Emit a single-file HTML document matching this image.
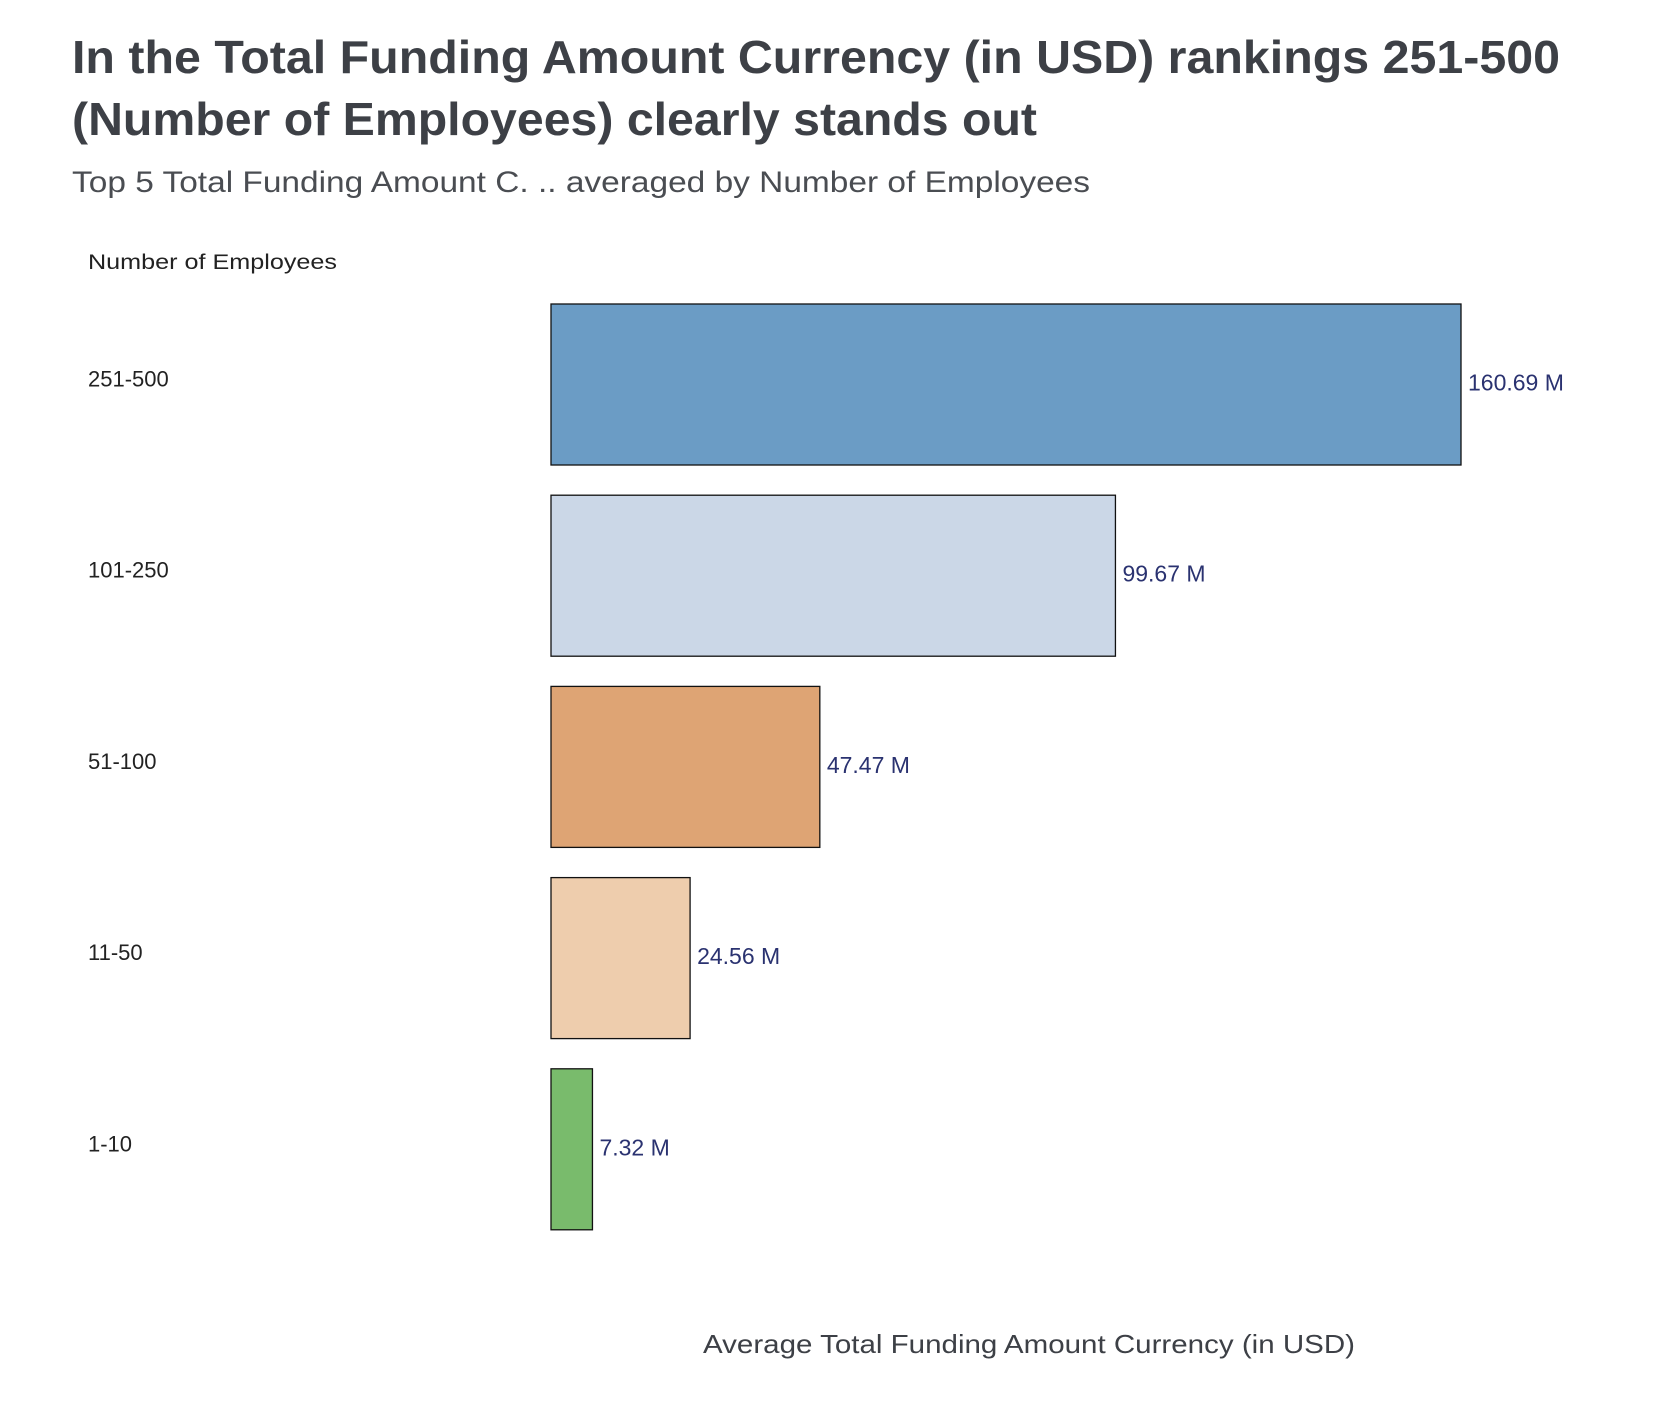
<!DOCTYPE html>
<html><head><meta charset="utf-8"><style>
html,body{margin:0;padding:0;background:#fff;}
svg{display:block;font-family:"Liberation Sans",sans-serif;}
</style></head><body>
<svg id="chart" width="1662" height="1414">
<text x="72" y="73" font-size="46" font-weight="bold" fill="#3d4046" textLength="1488" lengthAdjust="spacingAndGlyphs">In the Total Funding Amount Currency (in USD) rankings 251-500</text>
<text x="72" y="135" font-size="46" font-weight="bold" fill="#3d4046" textLength="965" lengthAdjust="spacingAndGlyphs">(Number of Employees) clearly stands out</text>
<text x="72" y="192" font-size="30" fill="#4a4d52" textLength="1018" lengthAdjust="spacingAndGlyphs">Top 5 Total Funding Amount C. .. averaged by Number of Employees</text>
<text x="88" y="269" font-size="21" fill="#222" textLength="249" lengthAdjust="spacingAndGlyphs">Number of Employees</text>
<text x="1029" y="1353" font-size="26" fill="#3d4046" text-anchor="middle" textLength="652" lengthAdjust="spacingAndGlyphs">Average Total Funding Amount Currency (in USD)</text>
<g id="bars"></g>
</svg>
<script>
const categories = ["251-500","101-250","51-100","11-50","1-10"];
const values = [160.69, 99.67, 47.47, 24.56, 7.32];
const valueLabels = ["160.69 M","99.67 M","47.47 M","24.56 M","7.32 M"];
const colors = ["#6b9cc5","#cbd7e7","#dea474","#eecdad","#79bb6c"];

const x0 = 551, xMax = 160.69, xW = 910;
function xs(v){ return x0 + v / xMax * xW; }
const yTop = 304, step = 191.2, barH = 161;
function ys(i){ return yTop + i * step; }

const g = document.getElementById('bars');
const NS = 'http://www.w3.org/2000/svg';
categories.forEach((c, i) => {
  const r = document.createElementNS(NS, 'rect');
  r.setAttribute('x', x0);
  r.setAttribute('y', ys(i));
  r.setAttribute('width', xs(values[i]) - x0);
  r.setAttribute('height', barH);
  r.setAttribute('fill', colors[i]);
  r.setAttribute('stroke', '#111');
  r.setAttribute('stroke-width', '1.3');
  
  
  g.appendChild(r);

  const t = document.createElementNS(NS, 'text');
  t.setAttribute('x', xs(values[i]) + 7);
  t.setAttribute('y', ys(i) + barH / 2 + 6);
  t.setAttribute('font-size', '23');
  t.setAttribute('fill', '#2a3270');
  t.textContent = valueLabels[i];
  
  
  g.appendChild(t);

  const l = document.createElementNS(NS, 'text');
  l.setAttribute('x', 88);
  l.setAttribute('y', ys(i) + barH / 2 + 2);
  l.setAttribute('font-size', '22');
  l.setAttribute('fill', '#222');
  l.textContent = c;
  
  
  g.appendChild(l);
});
</script>
</body></html>
